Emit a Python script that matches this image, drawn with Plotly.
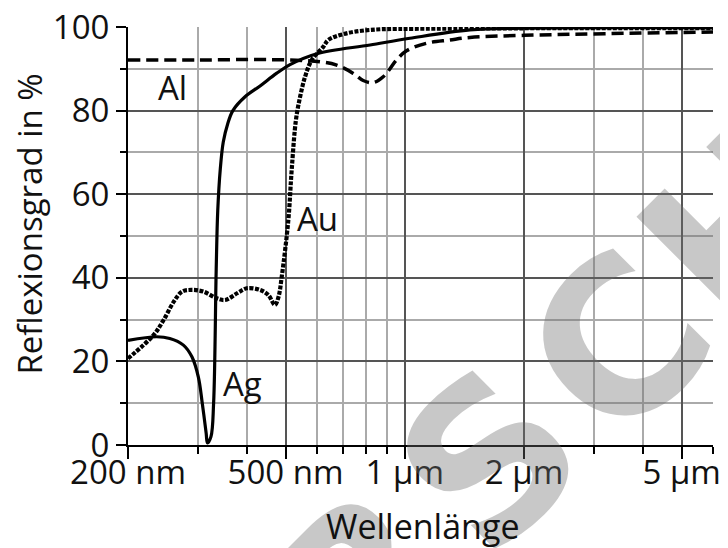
import numpy as np
import plotly.graph_objects as go

# Wavelength in nm, reflectance in %
ag_wl = [200, 236, 255, 276, 290, 301, 308, 315, 317.5, 324, 329, 334, 337, 342, 348, 357, 368, 395, 431, 474, 513, 600, 817, 1030, 1460, 2000, 6000]
ag_r = [25, 25.9, 25.5, 23.9, 21.1, 16.3, 10, 2.9, 0.5, 2, 10, 42, 56, 66, 72.5, 76.8, 80, 83.3, 85.9, 88.9, 91.0, 93.6, 95.7, 97.3, 99.3, 99.7, 99.8]

au_wl = [200, 232, 246, 261, 274, 290, 310, 335, 352, 377, 399, 431, 452, 470, 480, 489, 508, 518, 531, 544, 560, 582, 623, 641, 700, 817, 1200, 6000]
au_r = [20.7, 26.3, 29.9, 34.3, 36.7, 37.1, 36.7, 35.1, 34.7, 36.3, 37.5, 37.1, 35.9, 33.5, 35.5, 40.3, 53.8, 65.8, 77.8, 83.3, 88.1, 92.1, 95.3, 96.9, 98.3, 99.3, 99.6, 99.7]

al_wl = [200, 300, 457, 611, 673, 741, 785, 832, 882, 953, 1010, 1133, 1300, 1460, 2000, 3200, 6000]
al_r = [92.1, 92.1, 92.2, 91.7, 90.9, 88.9, 87.2, 86.7, 88.1, 92.1, 94.3, 96.1, 96.9, 97.5, 98.0, 98.4, 98.8]

x_major = [200, 500, 1000, 2000, 5000]
x_major_text = ["200 nm", "500 nm", "1 µm", "2 µm", "5 µm"]
x_minor = [300, 400, 600, 700, 800, 900, 3000, 4000, 6000]
y_major = [0, 20, 40, 60, 80, 100]
y_minor = [10, 30, 50, 70, 90]

labels = [("Al", 258.6, 85.6), ("Au", 602, 54.3), ("Ag", 390, 14.8)]

# watermark letters and their centres (paper coordinates)
wm_letters = ["R", "S", "C", "H"]
wm_x = [0.405, 0.619, 0.84, 1.05]
wm_y = [-0.335, -0.036, 0.24, 0.526]

FONT = "Open Sans"
FS = 33

fig = go.Figure()
fig.add_trace(go.Scatter(x=al_wl, y=al_r, mode="lines", line=dict(color="black", width=3.5, dash="12px,6px"), line_shape="spline"))
fig.add_trace(go.Scatter(x=au_wl, y=au_r, mode="lines", line=dict(color="black", width=4.2, dash="4px,1.5px"), line_shape="spline"))
fig.add_trace(go.Scatter(x=ag_wl, y=ag_r, mode="lines", line=dict(color="black", width=3.2), line_shape="spline"))

for t, xv, yv in labels:
    fig.add_annotation(x=np.log10(xv), y=yv, xref="x", yref="y", text=t, showarrow=False,
                       font=dict(family=FONT, size=FS, color="#111"))

for t, xv, yv in zip(wm_letters, wm_x, wm_y):
    fig.add_annotation(x=xv, y=yv, xref="paper", yref="paper", text="<b>%s</b>" % t, showarrow=False,
                       xanchor="center", yanchor="middle", textangle=-45,
                       font=dict(family="DejaVu Sans", size=212, color="rgba(110,110,110,0.38)"))

# axis titles placed as text
fig.add_annotation(x=-0.168, y=0.529, xref="paper", yref="paper", text="Reflexionsgrad in %",
                   showarrow=False, textangle=-90, xanchor="center", yanchor="middle",
                   font=dict(family=FONT, size=33, color="#111"))
fig.add_annotation(x=0.504, y=-0.194, xref="paper", yref="paper", text="Wellenlänge",
                   showarrow=False, xanchor="center", yanchor="middle",
                   font=dict(family=FONT, size=34, color="#111"))

fig.update_layout(
    width=720, height=540,
    margin=dict(l=120, r=15, t=19, b=103, autoexpand=False),
    paper_bgcolor="white", plot_bgcolor="white",
    showlegend=False,
    font=dict(family=FONT, size=FS, color="#111"),
)
fig.update_xaxes(
    type="log", range=[np.log10(200), np.log10(6000)], automargin=False,
    tickmode="array", tickvals=x_major, ticktext=x_major_text,
    ticks="outside", ticklen=12, tickwidth=2, tickcolor="black",
    ticklabelstandoff=-15, ticklabeloverflow="allow",
    showline=True, linecolor="black", linewidth=2,
    showgrid=True, gridcolor="#555", gridwidth=2,
    minor=dict(tickmode="array", tickvals=x_minor, ticks="outside", ticklen=7, tickwidth=2, tickcolor="black",
               showgrid=True, gridcolor="#aaa", gridwidth=2),
    tickfont=dict(size=FS), zeroline=False,
)
fig.update_yaxes(
    range=[0, 100], automargin=False,
    tickmode="array", tickvals=y_major,
    ticks="outside", ticklen=10, tickwidth=2, tickcolor="black",
    ticklabeloverflow="allow",
    showline=True, linecolor="black", linewidth=2,
    showgrid=True, gridcolor="#555", gridwidth=2,
    minor=dict(tickmode="array", tickvals=y_minor, ticks="outside", ticklen=6, tickwidth=2, tickcolor="black",
               showgrid=True, gridcolor="#aaa", gridwidth=2),
    tickfont=dict(size=FS), zeroline=False,
)
fig.write_html("out.html")
